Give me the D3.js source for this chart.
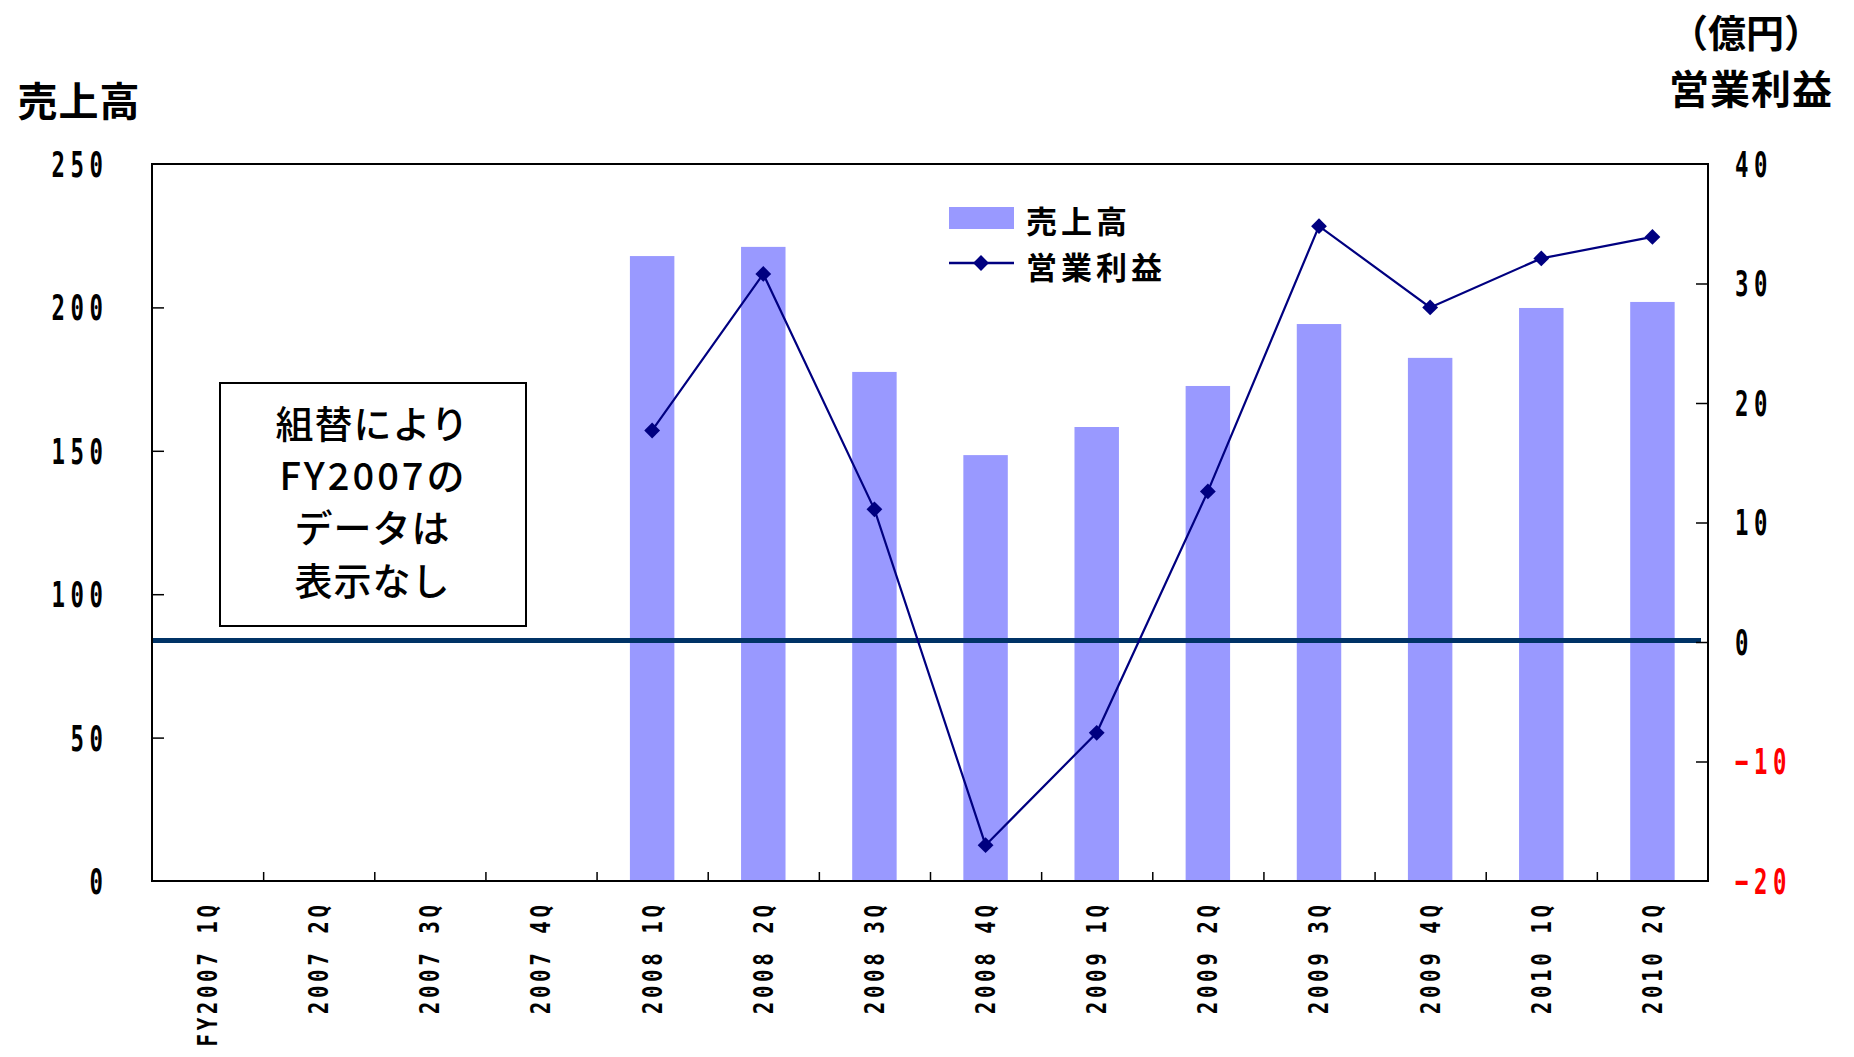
<!DOCTYPE html>
<html>
<head>
<meta charset="utf-8">
<script src="https://cdn.jsdelivr.net/npm/d3@7"></script>
<style>
  html, body { margin: 0; padding: 0; background: #fff; }
  svg { display: block; }
</style>
</head>
<body>
<svg id="chart" width="1854" height="1057"></svg>
<script>
// Quarterly categories (FY2007 shown without data after the reorganisation)
const categories = ["FY2007 1Q", "2007 2Q", "2007 3Q", "2007 4Q",
                    "2008 1Q", "2008 2Q", "2008 3Q", "2008 4Q",
                    "2009 1Q", "2009 2Q", "2009 3Q", "2009 4Q",
                    "2010 1Q", "2010 2Q"];
// Net sales (億円), left axis
const sales = [null, null, null, null, 217.9, 221.1, 177.5, 148.5, 158.3, 172.6, 194.2, 182.4, 199.8, 201.9];
// Operating profit (億円), right axis
const profit = [null, null, null, null, 17.7, 30.8, 11.1, -17.0, -7.6, 12.6, 34.8, 28.0, 32.1, 33.9];

const salesTicks = [0, 50, 100, 150, 200, 250];
const profitTicks = [-20, -10, 0, 10, 20, 30, 40];

const salesTitle = "売上高";
const profitTitle = "営業利益";
const unitLabel = "（億円）";
const noteLines = ["組替により", "FY2007の", "データは", "表示なし"];

const plot = { left: 152, right: 1708, top: 164, bottom: 881 };
const svg = d3.select("#chart");

const CJK = "'Noto Sans CJK JP', 'Noto Sans CJK SC', sans-serif";
const NUM = "'DejaVu Sans Mono', monospace";

const x = d3.scaleBand().domain(categories)
  .range([plot.left, plot.right]).paddingInner(0.6).paddingOuter(0.3);
const xIndex = d3.scaleLinear().domain([0, categories.length]).range([plot.left, plot.right]);
const yL = d3.scaleLinear().domain([0, 250]).range([plot.bottom, plot.top]);
const yR = d3.scaleLinear().domain([-20, 40]).range([plot.bottom, plot.top]);
const cx = c => x(c) + x.bandwidth() / 2;

// narrow, widely spaced numerals
function condensedText(parent, txt, o) {
  const sx = o.sx ?? 0.7, ls = o.ls ?? 6, anchor = o.anchor ?? "start";
  parent.append("g")
    .attr("transform", `translate(${o.x},${o.y}) rotate(${o.rotate ?? 0}) scale(${sx},1)`)
    .append("text")
    .attr("font-family", NUM).attr("font-weight", "bold")
    .attr("font-size", o.size ?? 36)
    .attr("letter-spacing", ls)
    .attr("text-anchor", anchor)
    .attr("dx", anchor === "end" ? ls : 0)
    .attr("dy", "0.36em")
    .attr("fill", o.fill ?? "#000")
    .text(txt);
}

// sales bars
const barData = categories.map((c, i) => ({ c, v: sales[i] })).filter(d => d.v != null);
svg.append("g").selectAll("rect").data(barData).join("rect")
  .attr("x", d => x(d.c)).attr("width", x.bandwidth())
  .attr("y", d => yL(d.v)).attr("height", d => yL(0) - yL(d.v))
  .attr("fill", "#9999ff");

// zero line of the profit axis
svg.append("line")
  .attr("x1", plot.left).attr("x2", plot.right - 7)
  .attr("y1", yR(0) - 1.5).attr("y2", yR(0) - 1.5)
  .attr("stroke", "#003366").attr("stroke-width", 5);

// plot frame
svg.append("rect")
  .attr("x", plot.left).attr("y", plot.top)
  .attr("width", plot.right - plot.left).attr("height", plot.bottom - plot.top)
  .attr("fill", "none").attr("stroke", "#000").attr("stroke-width", 2);

// inner tick marks
const axL = svg.append("g").attr("transform", `translate(${plot.left},0)`)
  .call(d3.axisRight(yL).tickValues(salesTicks.slice(1, -1)).tickSize(12).tickFormat(""));
const axR = svg.append("g").attr("transform", `translate(${plot.right},0)`)
  .call(d3.axisLeft(yR).tickValues(profitTicks.slice(1, -1)).tickSize(12).tickFormat(""));
const axB = svg.append("g").attr("transform", `translate(0,${plot.bottom})`)
  .call(d3.axisTop(xIndex).tickValues(d3.range(1, categories.length)).tickSize(9).tickFormat(""));
[axL, axR, axB].forEach(a => {
  a.select(".domain").remove();
  a.selectAll("line").attr("stroke", "#000").attr("stroke-width", 1.5);
});

// left tick labels
const labels = svg.append("g");
salesTicks.forEach(v => condensedText(labels, String(v), { x: 103, y: yL(v), anchor: "end", sx: 0.62, ls: 9 }));
// right tick labels
profitTicks.forEach(v => condensedText(labels,
  v < 0 ? "\u2212" + Math.abs(v) : String(v),
  { x: 1735, y: yR(v), anchor: "start", sx: 0.62, ls: 9, fill: v < 0 ? "#ff0000" : "#000" }));
// category labels
categories.forEach(c => condensedText(labels, c,
  { x: cx(c), y: 905, rotate: -90, anchor: "end", size: 26, sx: 0.8, ls: 4.5 }));

// operating profit line
const pts = categories.map((c, i) => ({ c, v: profit[i] }));
svg.append("path").datum(pts)
  .attr("d", d3.line().defined(d => d.v != null).x(d => cx(d.c)).y(d => yR(d.v)))
  .attr("fill", "none").attr("stroke", "#000080").attr("stroke-width", 2.2);
const diamond = d3.symbol(d3.symbolSquare, 125);
svg.append("g").selectAll("path").data(pts.filter(d => d.v != null)).join("path")
  .attr("d", diamond)
  .attr("transform", d => `translate(${cx(d.c)},${yR(d.v)}) rotate(45)`)
  .attr("fill", "#000080");

// axis titles
const title = (t, xx, yy, size, ls) => svg.append("text")
  .attr("x", xx).attr("y", yy).attr("text-anchor", "middle")
  .attr("dominant-baseline", "central")
  .attr("font-family", CJK).attr("font-weight", "bold")
  .attr("font-size", size).attr("letter-spacing", ls).text(t);
title(salesTitle, 79, 99, 40, 1);
title(unitLabel, 1746, 30, 38, 0);
title(profitTitle, 1751, 87, 40, 1);

// legend
const lg = svg.append("g");
lg.append("rect").attr("x", 949).attr("y", 207).attr("width", 65).attr("height", 22).attr("fill", "#9999ff");
lg.append("line").attr("x1", 949).attr("x2", 1014).attr("y1", 263).attr("y2", 263)
  .attr("stroke", "#000080").attr("stroke-width", 2.5);
lg.append("path").attr("d", diamond).attr("transform", "translate(981,263) rotate(45)").attr("fill", "#000080");
[[salesTitle, 219], [profitTitle, 265]].forEach(([t, yy]) => lg.append("text")
  .attr("x", 1026).attr("y", yy).attr("dominant-baseline", "central")
  .attr("font-family", CJK).attr("font-weight", "bold")
  .attr("font-size", 31).attr("letter-spacing", 4).text(t));

// note box
const nb = svg.append("g");
nb.append("rect").attr("x", 220).attr("y", 383).attr("width", 306).attr("height", 243)
  .attr("fill", "#fff").attr("stroke", "#000").attr("stroke-width", 2);
noteLines.forEach((t, i) => nb.append("text")
  .attr("x", 372).attr("y", 421 + i * 52.4)
  .attr("text-anchor", "middle").attr("dominant-baseline", "central")
  .attr("font-family", CJK).attr("font-weight", 500).attr("font-size", 38)
  .attr("letter-spacing", /[0-9]/.test(t) ? 3 : 1)
  .attr("dx", /[0-9]/.test(t) ? 1.5 : 0.5)
  .text(t));
</script>
</body>
</html>
